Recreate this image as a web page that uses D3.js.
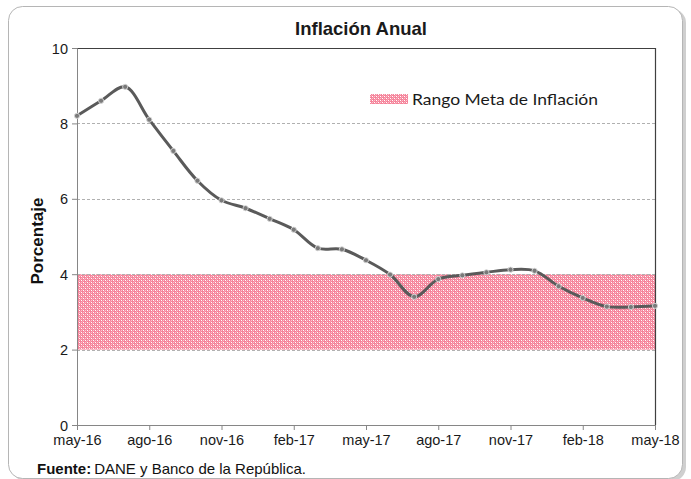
<!DOCTYPE html>
<html>
<head>
<meta charset="utf-8">
<script src="https://cdn.jsdelivr.net/npm/d3@7"></script>
<style>
  body { margin: 0; background: #fff; }
  svg { display: block; }
</style>
</head>
<body>
<svg class="chart"></svg>
<script>
// inflacion anual, mensual may-16 .. may-18
const months = ["may-16","jun-16","jul-16","ago-16","sep-16","oct-16","nov-16","dic-16",
  "ene-17","feb-17","mar-17","abr-17","may-17","jun-17","jul-17","ago-17","sep-17","oct-17",
  "nov-17","dic-17","ene-18","feb-18","mar-18","abr-18","may-18"];
const inflation = [8.20, 8.60, 8.97, 8.10, 7.27, 6.48, 5.96, 5.75, 5.47, 5.18, 4.69, 4.66,
  4.37, 3.99, 3.40, 3.87, 3.97, 4.05, 4.12, 4.09, 3.68, 3.37, 3.14, 3.13, 3.16];
const targetRange = [2, 4];
const yTicks = [0, 2, 4, 6, 8, 10];
const xTickLabels = ["may-16","ago-16","nov-16","feb-17","may-17","ago-17","nov-17","feb-18","may-18"];

const W = 691, H = 479;
const margin = { top: 48, right: 36, bottom: 54, left: 77 };
const width = W - margin.left - margin.right;
const height = H - margin.top - margin.bottom;

const svg = d3.select('.chart').attr('width', W).attr('height', H);

// marco exterior con sombra
svg.append('rect')
  .attr('x', 12).attr('y', 9).attr('width', 674).attr('height', 472)
  .attr('rx', 14).attr('fill', '#cfcfcf');
svg.append('rect')
  .attr('x', 8.5).attr('y', 6.5).attr('width', 674).attr('height', 472)
  .attr('rx', 14).attr('fill', '#fff').attr('stroke', '#b5b5b5');

// patron del rango meta
const defs = svg.append('defs');
const pat = defs.append('pattern')
  .attr('id', 'meta').attr('patternUnits', 'userSpaceOnUse')
  .attr('width', 4).attr('height', 4);
pat.append('rect').attr('width', 4).attr('height', 4).attr('fill', '#f5839a');
pat.append('rect').attr('x', 0).attr('y', 0).attr('width', 1).attr('height', 1).attr('fill', '#ffffff');
pat.append('rect').attr('x', 2).attr('y', 2).attr('width', 1).attr('height', 1).attr('fill', '#ffffff');
pat.append('rect').attr('x', 2).attr('y', 0).attr('width', 1).attr('height', 1).attr('fill', '#fbc3ce');
pat.append('rect').attr('x', 0).attr('y', 2).attr('width', 1).attr('height', 1).attr('fill', '#fbc3ce');
pat.append('rect').attr('x', 1).attr('y', 1).attr('width', 1).attr('height', 1).attr('fill', '#f8a5b5');
pat.append('rect').attr('x', 3).attr('y', 3).attr('width', 1).attr('height', 1).attr('fill', '#f8a5b5');

const x = d3.scalePoint()
  .domain(months)
  .range([0, width]);

const y = d3.scaleLinear()
  .domain([0, 10])
  .range([height, 0]);

const chart = svg.append('g')
  .attr('transform', 'translate(' + margin.left + ',' + margin.top + ')');

// banda 2-4
chart.append('rect')
  .attr('x', 0)
  .attr('y', y(targetRange[1]))
  .attr('width', width)
  .attr('height', y(targetRange[0]) - y(targetRange[1]))
  .attr('fill', 'url(#meta)');

// lineas de grilla
chart.selectAll('.grid')
    .data(yTicks.filter(d => d > 0 && d < 10))
  .enter().append('line')
    .attr('class', 'grid')
    .attr('x1', 0).attr('x2', width)
    .attr('y1', d => Math.round(y(d)) + 0.5)
    .attr('y2', d => Math.round(y(d)) + 0.5)
    .attr('stroke', '#b0b0b0')
    .attr('stroke-dasharray', '3,2');

// borde superior y derecho
chart.append('path')
  .attr('d', 'M0,0.5H' + (width + 0.5) + 'V' + height)
  .attr('fill', 'none').attr('stroke', '#404040').attr('stroke-width', 1.2);

const yAxis = d3.axisLeft(y)
  .tickValues(yTicks)
  .tickSize(5)
  .tickPadding(4);

const xAxis = d3.axisBottom(x)
  .tickValues(xTickLabels)
  .tickSize(5)
  .tickPadding(5);

const gy = chart.append('g').attr('class', 'y axis').call(yAxis);
const gx = chart.append('g').attr('class', 'x axis')
  .attr('transform', 'translate(0,' + height + ')').call(xAxis);

[gx, gy].forEach(g => {
  g.select('.domain').attr('stroke', '#868686');
  g.selectAll('.tick line').attr('stroke', '#868686');
  g.selectAll('.tick text')
    .attr('fill', '#1a1a1a')
    .style('font-family', 'Liberation Sans, Arial, sans-serif')
    .style('font-size', '14.5px');
});
gy.selectAll('.tick text').attr('dy', '0.35em');

// linea de inflacion
const line = d3.line()
  .x((d, i) => x(months[i]))
  .y(d => y(d))
  .curve(d3.curveCatmullRom.alpha(0.5));

chart.append('path')
  .datum(inflation)
  .attr('fill', 'none')
  .attr('stroke', '#5a5a5a')
  .attr('stroke-width', 3)
  .attr('stroke-linecap', 'round')
  .attr('d', line);

chart.selectAll('.dot')
    .data(inflation)
  .enter().append('circle')
    .attr('class', 'dot')
    .attr('cx', (d, i) => x(months[i]))
    .attr('cy', d => y(d))
    .attr('r', 2.6)
    .attr('fill', '#7a7a7a')
    .attr('stroke', '#d8d8d8')
    .attr('stroke-width', 0.9);

// leyenda
svg.append('rect')
  .attr('x', 370).attr('y', 94).attr('width', 38).attr('height', 10)
  .attr('fill', 'url(#meta)');
svg.append('text')
  .attr('x', 412).attr('y', 104.5)
  .attr('textLength', 186).attr('lengthAdjust', 'spacingAndGlyphs')
  .style('font-family', 'Lato, Open Sans, sans-serif')
  .style('font-size', '15px')
  .attr('fill', '#1a1a1a')
  .text('Rango Meta de Inflación');

// titulo
svg.append('text')
  .attr('x', 361).attr('y', 35)
  .attr('text-anchor', 'middle')
  .style('font-family', 'Liberation Sans, Arial, sans-serif')
  .style('font-size', '18.5px').style('font-weight', 'bold')
  .attr('fill', '#1a1a1a')
  .text('Inflación Anual');

// eje y titulo
svg.append('text')
  .attr('transform', 'translate(43,241) rotate(-90)')
  .attr('text-anchor', 'middle')
  .style('font-family', 'Liberation Sans, Arial, sans-serif')
  .style('font-size', '17px').style('font-weight', 'bold')
  .attr('fill', '#111')
  .text('Porcentaje');

// fuente
const src = svg.append('text')
  .attr('x', 37).attr('y', 474)
  .style('font-family', 'Liberation Sans, Arial, sans-serif')
  .style('font-size', '15px')
  .attr('fill', '#111');
src.append('tspan').style('font-weight', 'bold').text('Fuente:');
src.append('tspan').attr('dx', 3).text('DANE y Banco de la República.');
</script>
</body>
</html>
